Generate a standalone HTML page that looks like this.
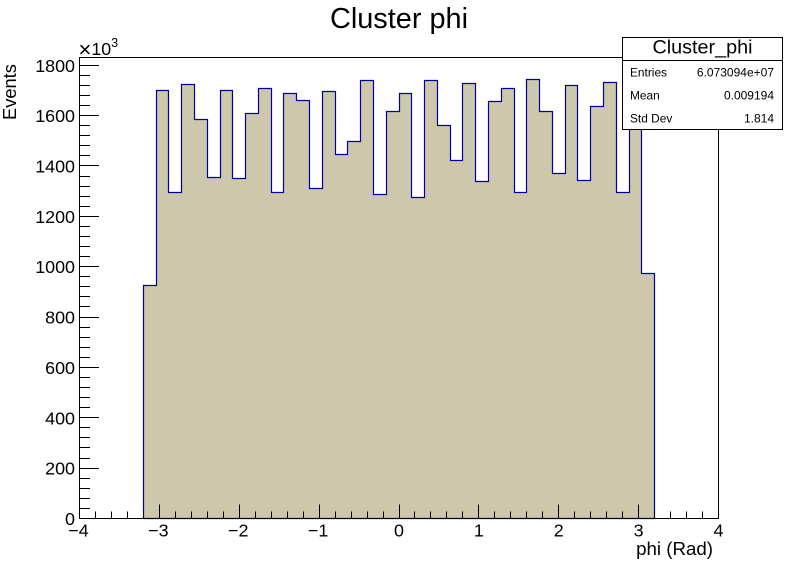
<!DOCTYPE html>
<html>
<head>
<meta charset="utf-8">
<title>Cluster phi</title>
<style>
html,body{margin:0;padding:0;background:#fff;}
svg{display:block;font-family:"Liberation Sans",sans-serif;fill:#000;}
</style>
</head>
<body>
<svg id="chart" xmlns="http://www.w3.org/2000/svg" width="798" height="576" viewBox="0 0 798 576">
  <rect x="0" y="0" width="798" height="576" fill="#ffffff"/>
  <text x="399" y="28" font-size="28.9" text-anchor="middle">Cluster phi</text>
  <g id="hist"></g>
  <rect x="79.5" y="57.5" width="639" height="461" fill="none" stroke="#000" stroke-width="1"/>
  <g id="axes"></g>
  <text x="78.5" y="55" font-size="17.8"><tspan font-size="22" dy="2">×</tspan><tspan dy="-2">10</tspan><tspan dy="-8" font-size="12.5">3</tspan></text>
  <text transform="translate(16,120) rotate(-90)" font-size="18.3">Events</text>
  <text x="713" y="555" font-size="18.7" text-anchor="end">phi (Rad)</text>
  <g>
    <rect x="622.5" y="37.5" width="160" height="92" fill="#ffffff" stroke="#000" stroke-width="1"/>
    <line x1="622.5" y1="60.5" x2="782.5" y2="60.5" stroke="#000" stroke-width="1"/>
    <text x="702.5" y="53.5" font-size="19.8" text-anchor="middle">Cluster_phi</text>
    <text x="630" y="76.5" font-size="11.9">Entries</text>
    <text x="774" y="76.5" font-size="12" text-anchor="end">6.073094e+07</text>
    <text x="630" y="99.5" font-size="11.9">Mean</text>
    <text x="774" y="99.5" font-size="12" text-anchor="end">0.009194</text>
    <text x="630" y="122.5" font-size="11.9">Std Dev</text>
    <text x="774" y="122.5" font-size="12" text-anchor="end">1.814</text>
  </g>
</svg>
<script>
var binLow = -3.2;
var binWidth = 0.16;
var binValues = [925,1700,1295,1723,1585,1355,1700,1350,1608,1707,1295,1687,1660,1310,1696,1445,1497,1738,1287,1617,1687,1275,1738,1560,1420,1727,1337,1658,1706,1295,1742,1617,1372,1718,1341,1635,1730,1295,1700,973];
var xTickValues = [-4,-3,-2,-1,0,1,2,3,4];
var xTickLabels = ["\u22124","\u22123","\u22122","\u22121","0","1","2","3","4"];
var yTickValues = [0,200,400,600,800,1000,1200,1400,1600,1800];
var yTickLabels = ["0","200","400","600","800","1000","1200","1400","1600","1800"];

var NS = "http://www.w3.org/2000/svg";
function X(v){ return 79.5 + (v + 4) * 79.875; }
function Y(v){ return 518.5 - v * 0.2518; }
function snap(p){ return Math.floor(p) + 0.5; }

function make(tag, attrs, parent){
  var el = document.createElementNS(NS, tag);
  for (var k in attrs) el.setAttribute(k, attrs[k]);
  parent.appendChild(el);
  return el;
}

var hist = document.getElementById("hist");
var d = "M" + snap(X(binLow)) + " " + snap(Y(0));
binValues.forEach(function(v, i){
  d += "L" + snap(X(binLow + i * binWidth)) + " " + snap(Y(v));
  d += "L" + snap(X(binLow + (i + 1) * binWidth)) + " " + snap(Y(v));
});
d += "L" + snap(X(binLow + binValues.length * binWidth)) + " " + snap(Y(0)) + "Z";
var histPath = make("path", {d: d, fill: "#cdc8ac", stroke: "#0000a0", "stroke-width": "1.2"}, hist);



var axes = document.getElementById("axes");

var xMajor = 14, xMinor = 7, yMajor = 19.5, yMinor = 10.5;

xTickValues.forEach(function(v, i){
  var line = make("line", {x1: snap(X(v)), x2: snap(X(v)), y1: 518.5, y2: 518.5 - xMajor, stroke: "#000"}, axes);
  
  
  var label = make("text", {x: X(v) - (v < 0 ? 1 : 0), y: 536.7, "font-size": "17.9", "text-anchor": "middle"}, axes);
  
  
  label.textContent = xTickLabels[i];
  if (i < xTickValues.length - 1) {
    var step = (xTickValues[i + 1] - v) / 5;
    for (var m = 1; m < 5; m++) {
      var minor = make("line", {x1: snap(X(v + m * step)), x2: snap(X(v + m * step)), y1: 518.5, y2: 518.5 - xMinor, stroke: "#000"}, axes);
      
      
    }
  }
});

yTickValues.forEach(function(v, i){
  var line = make("line", {x1: 79.5, x2: 79.5 + yMajor, y1: snap(Y(v)), y2: snap(Y(v)), stroke: "#000"}, axes);
  
  
  var label = make("text", {x: 75, y: Y(v) + 6.5, "font-size": "17.9", "text-anchor": "end"}, axes);
  
  
  label.textContent = yTickLabels[i];
  var step = (yTickValues[1] - yTickValues[0]) / 5;
  for (var m = 1; m < 5; m++) {
    var val = v + m * step;
    if (Y(val) < 57.5) break;
    var minor = make("line", {x1: 79.5, x2: 79.5 + yMinor, y1: snap(Y(val)), y2: snap(Y(val)), stroke: "#000"}, axes);
    
    
  }
});
</script>
</body>
</html>
